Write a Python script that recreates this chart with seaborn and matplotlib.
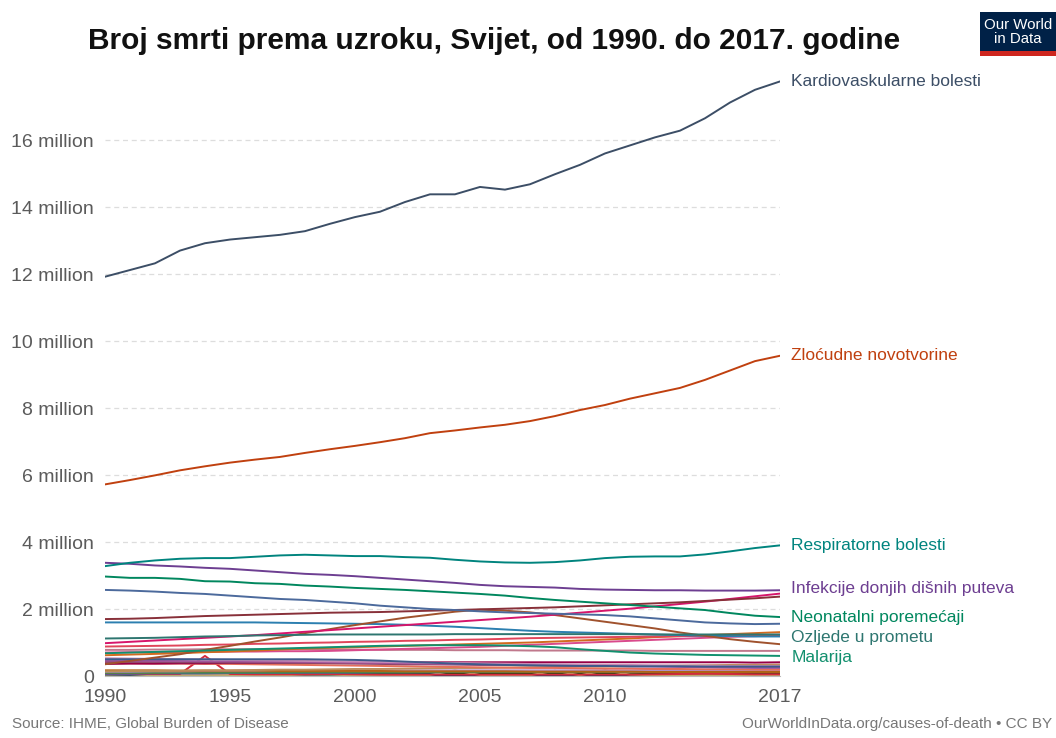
"""
Broj smrti prema uzroku, Svijet, 1990.-2017. (prema OWID grafikonu).
"""
import pandas as pd
import matplotlib.pyplot as plt
import seaborn as sns
from matplotlib.patches import Rectangle

godine = list(range(1990, 2018))

# glavni uzroci (milijuni smrti)
kardiovaskularne = [11.92, 12.12, 12.32, 12.70, 12.92, 13.03, 13.10, 13.17, 13.28, 13.50, 13.70, 13.86, 14.15, 14.38,
                    14.38, 14.60, 14.52, 14.68, 14.98, 15.26, 15.60, 15.84, 16.08, 16.28, 16.65, 17.12, 17.50, 17.75]
zlocudne = [5.72, 5.85, 5.99, 6.14, 6.26, 6.37, 6.46, 6.54, 6.66, 6.77, 6.87, 6.98, 7.10, 7.25,
            7.33, 7.42, 7.50, 7.61, 7.76, 7.94, 8.09, 8.28, 8.44, 8.60, 8.84, 9.12, 9.40, 9.56]
respiratorne = [3.28, 3.38, 3.45, 3.50, 3.52, 3.52, 3.56, 3.60, 3.62, 3.60, 3.58, 3.58, 3.55, 3.53,
                3.47, 3.42, 3.39, 3.38, 3.40, 3.45, 3.52, 3.56, 3.57, 3.57, 3.63, 3.72, 3.82, 3.90]
infekcije = [3.38, 3.35, 3.30, 3.27, 3.23, 3.20, 3.15, 3.10, 3.05, 3.02, 2.98, 2.93, 2.88, 2.83,
             2.78, 2.72, 2.68, 2.66, 2.64, 2.60, 2.58, 2.57, 2.56, 2.56, 2.55, 2.55, 2.55, 2.56]
neonatalni = [2.97, 2.93, 2.93, 2.90, 2.83, 2.82, 2.77, 2.75, 2.70, 2.67, 2.63, 2.60, 2.57, 2.53,
              2.49, 2.45, 2.40, 2.33, 2.27, 2.22, 2.17, 2.12, 2.07, 2.02, 1.97, 1.88, 1.80, 1.76]
ozljede_promet = [1.12, 1.13, 1.14, 1.16, 1.18, 1.19, 1.21, 1.22, 1.23, 1.24, 1.24, 1.24, 1.24, 1.24,
                  1.25, 1.25, 1.25, 1.25, 1.25, 1.25, 1.25, 1.25, 1.24, 1.24, 1.24, 1.24, 1.24, 1.24]
malarija = [0.68, 0.70, 0.72, 0.74, 0.76, 0.78, 0.80, 0.82, 0.84, 0.86, 0.88, 0.90, 0.91, 0.92,
            0.92, 0.92, 0.91, 0.89, 0.86, 0.80, 0.75, 0.70, 0.67, 0.65, 0.63, 0.62, 0.61, 0.60]

# ostali uzroci (bez oznake)
dijareja = [2.57, 2.55, 2.52, 2.48, 2.45, 2.40, 2.35, 2.30, 2.27, 2.22, 2.17, 2.10, 2.05, 2.00,
            1.97, 1.93, 1.90, 1.88, 1.86, 1.84, 1.82, 1.78, 1.72, 1.66, 1.60, 1.57, 1.55, 1.56]
probavne = [1.70, 1.71, 1.73, 1.76, 1.79, 1.81, 1.83, 1.85, 1.87, 1.89, 1.90, 1.91, 1.93, 1.95,
            1.97, 1.99, 2.01, 2.03, 2.05, 2.08, 2.11, 2.14, 2.17, 2.20, 2.24, 2.28, 2.32, 2.37]
demencija = [0.98, 1.02, 1.06, 1.10, 1.14, 1.18, 1.22, 1.27, 1.32, 1.37, 1.42, 1.47, 1.52, 1.57,
             1.62, 1.67, 1.72, 1.77, 1.83, 1.89, 1.95, 2.01, 2.08, 2.15, 2.22, 2.30, 2.38, 2.46]
hiv = [0.35, 0.45, 0.55, 0.65, 0.78, 0.90, 1.03, 1.15, 1.28, 1.40, 1.52, 1.63, 1.74, 1.83,
       1.92, 1.98, 1.95, 1.90, 1.82, 1.72, 1.62, 1.52, 1.42, 1.30, 1.20, 1.10, 1.02, 0.95]
tuberkuloza = [1.60, 1.60, 1.60, 1.60, 1.60, 1.60, 1.60, 1.59, 1.58, 1.57, 1.56, 1.55, 1.53, 1.50,
               1.47, 1.43, 1.39, 1.35, 1.32, 1.30, 1.28, 1.26, 1.24, 1.22, 1.20, 1.19, 1.18, 1.18]
bubrezi = [0.88, 0.89, 0.90, 0.91, 0.93, 0.94, 0.96, 0.97, 0.99, 1.00, 1.02, 1.03, 1.05, 1.06,
           1.08, 1.09, 1.11, 1.13, 1.14, 1.15, 1.16, 1.17, 1.18, 1.19, 1.20, 1.21, 1.22, 1.23]
dijabetes = [0.62, 0.64, 0.66, 0.68, 0.71, 0.73, 0.76, 0.79, 0.82, 0.84, 0.86, 0.88, 0.90, 0.92,
             0.94, 0.96, 0.98, 1.00, 1.03, 1.06, 1.09, 1.12, 1.16, 1.19, 1.22, 1.25, 1.28, 1.31]
ciroza = [0.70, 0.71, 0.71, 0.72, 0.72, 0.73, 0.73, 0.74, 0.74, 0.75, 0.77, 0.79, 0.81, 0.83,
          0.85, 0.87, 0.90, 0.93, 0.96, 0.99, 1.02, 1.05, 1.08, 1.11, 1.14, 1.17, 1.19, 1.21]
samoubojstva = [0.78, 0.78, 0.79, 0.79, 0.80, 0.80, 0.80, 0.80, 0.80, 0.79, 0.79, 0.78, 0.78, 0.78,
                0.77, 0.77, 0.77, 0.76, 0.76, 0.76, 0.76, 0.76, 0.75, 0.75, 0.75, 0.75, 0.75, 0.75]
ospice = [0.50, 0.50, 0.50, 0.50, 0.50, 0.50, 0.50, 0.50, 0.50, 0.49, 0.48, 0.46, 0.43, 0.40,
          0.37, 0.35, 0.33, 0.32, 0.31, 0.30, 0.30, 0.29, 0.29, 0.29, 0.28, 0.28, 0.28, 0.28]
pothranjenost = [0.46, 0.46, 0.45, 0.45, 0.44, 0.44, 0.43, 0.43, 0.42, 0.41, 0.40, 0.39, 0.38, 0.37,
                 0.36, 0.35, 0.34, 0.33, 0.32, 0.31, 0.30, 0.29, 0.28, 0.27, 0.26, 0.25, 0.24, 0.24]
meningitis = [0.42, 0.42, 0.42, 0.41, 0.41, 0.40, 0.40, 0.39, 0.39, 0.38, 0.37, 0.36, 0.35, 0.35,
              0.34, 0.33, 0.33, 0.32, 0.32, 0.31, 0.31, 0.30, 0.30, 0.30, 0.29, 0.29, 0.29, 0.29]
utapanje = [0.53, 0.52, 0.51, 0.50, 0.49, 0.48, 0.47, 0.46, 0.45, 0.44, 0.43, 0.42, 0.41, 0.40,
            0.39, 0.38, 0.37, 0.36, 0.35, 0.34, 0.33, 0.33, 0.32, 0.31, 0.31, 0.30, 0.30, 0.30]
ubojstva = [0.36, 0.37, 0.37, 0.38, 0.38, 0.39, 0.39, 0.39, 0.40, 0.40, 0.40, 0.41, 0.41, 0.41,
            0.41, 0.41, 0.41, 0.41, 0.41, 0.41, 0.41, 0.41, 0.41, 0.41, 0.41, 0.41, 0.40, 0.41]
majcinski = [0.38, 0.38, 0.37, 0.37, 0.36, 0.36, 0.35, 0.34, 0.33, 0.32, 0.31, 0.30, 0.29, 0.28,
             0.27, 0.26, 0.25, 0.24, 0.24, 0.23, 0.22, 0.22, 0.21, 0.21, 0.20, 0.20, 0.19, 0.19]
parkinson = [0.14, 0.15, 0.15, 0.16, 0.17, 0.17, 0.18, 0.19, 0.19, 0.20, 0.21, 0.21, 0.22, 0.23,
             0.24, 0.24, 0.25, 0.26, 0.27, 0.28, 0.28, 0.29, 0.30, 0.31, 0.32, 0.33, 0.33, 0.34]
hepatitis = [0.09, 0.09, 0.09, 0.10, 0.10, 0.10, 0.10, 0.10, 0.11, 0.11, 0.11, 0.11, 0.11, 0.12,
             0.12, 0.12, 0.12, 0.12, 0.12, 0.12, 0.12, 0.13, 0.13, 0.13, 0.13, 0.13, 0.13, 0.13]
pozari = [0.17, 0.17, 0.17, 0.16, 0.16, 0.16, 0.16, 0.15, 0.15, 0.15, 0.15, 0.15, 0.14, 0.14,
          0.14, 0.14, 0.14, 0.13, 0.13, 0.13, 0.13, 0.13, 0.12, 0.12, 0.12, 0.12, 0.12, 0.12]
alkohol = [0.13, 0.13, 0.14, 0.14, 0.15, 0.15, 0.16, 0.16, 0.16, 0.16, 0.17, 0.17, 0.17, 0.17,
           0.17, 0.17, 0.17, 0.17, 0.17, 0.17, 0.17, 0.17, 0.18, 0.18, 0.18, 0.18, 0.18, 0.18]
droge = [0.07, 0.07, 0.08, 0.08, 0.08, 0.09, 0.09, 0.09, 0.10, 0.10, 0.10, 0.11, 0.11, 0.11,
         0.12, 0.12, 0.12, 0.13, 0.13, 0.13, 0.14, 0.14, 0.14, 0.15, 0.15, 0.16, 0.16, 0.17]
trovanja = [0.10, 0.10, 0.10, 0.10, 0.10, 0.10, 0.10, 0.10, 0.09, 0.09, 0.09, 0.09, 0.09, 0.09,
            0.08, 0.08, 0.08, 0.08, 0.08, 0.08, 0.08, 0.07, 0.07, 0.07, 0.07, 0.07, 0.07, 0.07]
katastrofe = [0.04, 0.05, 0.02, 0.02, 0.02, 0.02, 0.02, 0.02, 0.04, 0.04, 0.02, 0.03, 0.02, 0.03,
              0.17, 0.03, 0.02, 0.02, 0.16, 0.02, 0.17, 0.04, 0.02, 0.02, 0.02, 0.02, 0.01, 0.01]
sukobi = [0.06, 0.06, 0.06, 0.06, 0.60, 0.06, 0.05, 0.05, 0.05, 0.06, 0.05, 0.04, 0.04, 0.04,
          0.04, 0.04, 0.04, 0.04, 0.04, 0.04, 0.04, 0.04, 0.05, 0.06, 0.07, 0.06, 0.05, 0.05]
terorizam = [0.01, 0.01, 0.01, 0.01, 0.01, 0.01, 0.01, 0.01, 0.01, 0.01, 0.01, 0.01, 0.01, 0.01,
             0.01, 0.01, 0.01, 0.02, 0.01, 0.01, 0.01, 0.01, 0.02, 0.02, 0.04, 0.04, 0.03, 0.03]
toplina_hladnoca = [0.07, 0.07, 0.07, 0.07, 0.07, 0.07, 0.06, 0.06, 0.06, 0.06, 0.06, 0.06, 0.06, 0.07,
                    0.06, 0.06, 0.06, 0.06, 0.06, 0.06, 0.07, 0.06, 0.06, 0.06, 0.05, 0.05, 0.05, 0.05]

uzroci = {
    'Terorizam': (terorizam, '#00295B'),
    'Toplina i hladnoća': (toplina_hladnoca, '#D73C50'),
    'Trovanja': (trovanja, '#18470F'),
    'Prirodne katastrofe': (katastrofe, '#BFA96B'),
    'Sukobi': (sukobi, '#D42A3C'),
    'Droge': (droge, '#286BBB'),
    'Hepatitis': (hepatitis, '#578145'),
    'Alkohol': (alkohol, '#B68FC9'),
    'Požari': (pozari, '#B16214'),
    'Parkinson': (parkinson, '#BC8E5A'),
    'Majčinski': (majcinski, '#E56E5A'),
    'Ubojstva': (ubojstva, '#970046'),
    'Meningitis': (meningitis, '#8C4569'),
    'Pothranjenost': (pothranjenost, '#A2559C'),
    'Utapanje': (utapanje, '#C78BB5'),
    'Ospice': (ospice, '#3D5A8A'),
    'Samoubojstva': (samoubojstva, '#C0788C'),
    'Ciroza': (ciroza, '#D94A8C'),
    'Dijabetes': (dijabetes, '#D26A1E'),
    'Bubrezi': (bubrezi, '#E0455A'),
    'Tuberkuloza': (tuberkuloza, '#2C7FB0'),
    'HIV/AIDS': (hiv, '#A0522D'),
    'Demencija': (demencija, '#D6156B'),
    'Probavne': (probavne, '#883039'),
    'Dijareja': (dijareja, '#4C6A9C'),
    'Malarija': (malarija, '#12906E'),
    'Ozljede u prometu': (ozljede_promet, '#2E7670'),
    'Neonatalni poremećaji': (neonatalni, '#00875E'),
    'Infekcije donjih dišnih puteva': (infekcije, '#6D3E91'),
    'Respiratorne bolesti': (respiratorne, '#00847E'),
    'Zloćudne novotvorine': (zlocudne, '#C0400F'),
    'Kardiovaskularne bolesti': (kardiovaskularne, '#3C4E66'),
}

oznaceni = ['Kardiovaskularne bolesti', 'Zloćudne novotvorine', 'Respiratorne bolesti',
            'Infekcije donjih dišnih puteva', 'Neonatalni poremećaji', 'Ozljede u prometu', 'Malarija']
pomak_oznake = {'Ozljede u prometu': -0.08, 'Malarija': -0.04, 'Infekcije donjih dišnih puteva': 0.04}

df = pd.concat([pd.DataFrame({'godina': godine, 'smrti': v, 'uzrok': k})
                for k, (v, _) in uzroci.items()], ignore_index=True)
paleta = {k: c for k, (_, c) in uzroci.items()}

sns.set_style('white')
plt.rcParams['font.family'] = ['Liberation Sans', 'DejaVu Sans']

fig = plt.figure(figsize=(10.56, 7.38), dpi=100)
ax = fig.add_axes([0.0994, 0.084, 0.6392, 0.817])

sns.lineplot(data=df, x='godina', y='smrti', hue='uzrok', hue_order=list(uzroci.keys()),
             palette=paleta, linewidth=1.4, legend=False, ax=ax)

ax.set_xlim(1990, 2017)
ax.set_ylim(0, 18)
ax.set_xlabel('')
ax.set_ylabel('')
ax.set_xticks([1990, 1995, 2000, 2005, 2010, 2017])
ax.set_yticks(range(0, 18, 2))
ax.set_yticklabels(['0'] + [f'{v} million' for v in range(2, 18, 2)])
ax.tick_params(axis='x', length=5, color='#aaaaaa', labelsize=14, labelcolor='#5b5b5b', pad=4)
ax.tick_params(axis='y', length=0, labelsize=14, labelcolor='#5b5b5b', pad=8)
for s in ['top', 'right', 'left']:
    ax.spines[s].set_visible(False)
ax.spines['bottom'].set_color('#bbbbbb')
ax.spines['bottom'].set_linewidth(0.8)
ax.yaxis.grid(True, color='#dddddd', linestyle=(0, (4, 3)), linewidth=0.9)
ax.set_axisbelow(True)

for naziv in oznaceni:
    vrijednosti, boja = uzroci[naziv]
    ax.text(2017.45, vrijednosti[-1] + pomak_oznake.get(naziv, 0), naziv, color=boja,
            fontsize=12.5, va='center', ha='left', clip_on=False)

fig.text(0.468, 0.944, 'Broj smrti prema uzroku, Svijet, od 1990. do 2017. godine',
         ha='center', va='center', fontsize=21.5, fontweight='bold', color='#111111')

# logo
fig.patches.append(Rectangle((0.928, 0.930), 0.072, 0.054, transform=fig.transFigure,
                             facecolor='#002147', edgecolor='none'))
fig.patches.append(Rectangle((0.928, 0.924), 0.072, 0.007, transform=fig.transFigure,
                             facecolor='#CE261E', edgecolor='none'))
fig.text(0.964, 0.957, 'Our World\nin Data', ha='center', va='center', color='white',
         fontsize=10.8, linespacing=1.0)

fig.text(0.011, 0.01, 'Source: IHME, Global Burden of Disease', fontsize=11, color='#777777',
         ha='left', va='bottom')
fig.text(0.996, 0.01, 'OurWorldInData.org/causes-of-death • CC BY', fontsize=11, color='#777777',
         ha='right', va='bottom')

fig.savefig('out.png', dpi=100)
